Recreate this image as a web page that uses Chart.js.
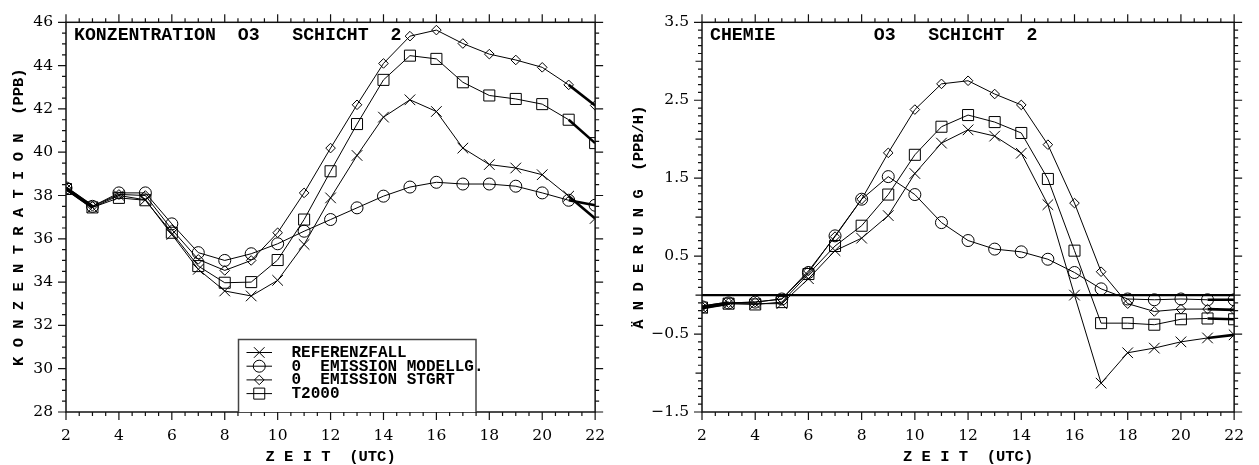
<!DOCTYPE html>
<html>
<head>
<meta charset="utf-8">
<script src="https://cdn.jsdelivr.net/npm/chart.js@4.4.1/dist/chart.umd.min.js"></script>
<style>
  html, body { margin: 0; padding: 0; background: #fff; }
  #wrap { position: relative; width: 1259px; height: 465px; overflow: hidden; }
  #c1 { position: absolute; left: 0; top: 0; }
  #c2 { position: absolute; left: 620px; top: 0; }
</style>
</head>
<body>
<div id="wrap">
  <canvas id="c1" width="620" height="465"></canvas>
  <canvas id="c2" width="639" height="465"></canvas>
</div>
<script>
// ---------- data ----------
const hours = [2, 3, 4, 5, 6, 7, 8, 9, 10, 11, 12, 13, 14, 15, 16, 17, 18, 19, 20, 21, 22];
const seriesNames = ['REFERENZFALL', '0  EMISSION MODELLG.', '0  EMISSION STGRT', 'T2000'];

// Konzentration O3 (PPB)
const concRef    = [38.30, 37.45, 38.00, 37.80, 36.20, 34.59, 33.59, 33.36, 34.08, 35.74, 37.89, 39.85, 41.62, 42.42, 41.88, 40.19, 39.43, 39.27, 38.96, 37.97, 36.94];
const concModell = [38.35, 37.50, 38.12, 38.12, 36.69, 35.36, 35.00, 35.31, 35.77, 36.35, 36.89, 37.43, 37.97, 38.39, 38.61, 38.53, 38.53, 38.43, 38.12, 37.78, 37.55];
const concStgrt  = [38.35, 37.50, 38.05, 38.00, 36.43, 35.05, 34.54, 35.00, 36.28, 38.12, 40.19, 42.19, 44.10, 45.36, 45.64, 45.02, 44.53, 44.26, 43.92, 43.11, 42.16];
const concT2000  = [38.30, 37.45, 37.89, 37.78, 36.28, 34.74, 33.97, 34.00, 35.02, 36.89, 39.12, 41.30, 43.34, 44.46, 44.31, 43.23, 42.62, 42.46, 42.22, 41.50, 40.42];

// Chemie Aenderung (PPB/H)
const chemRef    = [-0.17, -0.11, -0.11, -0.11, 0.21, 0.57, 0.73, 1.02, 1.56, 1.95, 2.12, 2.04, 1.82, 1.16, 0.00, -1.13, -0.74, -0.68, -0.60, -0.55, -0.51];
const chemModell = [-0.15, -0.10, -0.09, -0.05, 0.29, 0.76, 1.23, 1.52, 1.29, 0.93, 0.70, 0.59, 0.555, 0.46, 0.29, 0.08, -0.05, -0.06, -0.05, -0.06, -0.06];
const chemStgrt  = [-0.15, -0.10, -0.09, -0.05, 0.31, 0.75, 1.23, 1.825, 2.38, 2.71, 2.75, 2.58, 2.44, 1.93, 1.18, 0.30, -0.11, -0.21, -0.18, -0.18, -0.19];
const chemT2000  = [-0.16, -0.11, -0.12, -0.09, 0.27, 0.63, 0.89, 1.29, 1.80, 2.16, 2.31, 2.22, 2.08, 1.49, 0.57, -0.36, -0.36, -0.38, -0.31, -0.30, -0.31];
const zeroLine = [0, 0];
const zeroHours = [2, 22];

const xTicks = { min: 2, max: 22, step: 2, minor: 0.5 };
const concTicks = { min: 28, max: 46, step: 2, minor: 0.5 };
const chemTicks = { min: -1.5, max: 3.5, step: 1, minor: 0.1 };

const titleLeft  = 'KONZENTRATION  O3   SCHICHT  2';
const titleRight = 'CHEMIE         O3   SCHICHT  2';
const xTitle = 'Z E I T  (UTC)';
const yTitleLeft = 'K O N Z E N T R A T I O N  (PPB)';
const yTitleRight = 'Ä N D E R U N G  (PPB/H)';

// ---------- styles ----------
const MONO = '"Liberation Mono", "DejaVu Sans Mono", monospace';
const TICKFONT = '"DejaVu Serif", "Liberation Serif", serif';
const markerStyles = [
  { pointStyle: 'crossRot', radius: 7.5 },
  { pointStyle: 'circle', radius: 6 },
  { pointStyle: 'rectRot', radius: 4.8 },
  { pointStyle: 'rect', radius: 7.8 }
];

function pts(xs, ys) { return xs.map((h, i) => ({ x: h, y: ys[i] })); }

function seriesDataset(name, values, k) {
  const n = values.length;
  return {
    label: name,
    data: pts(hours, values),
    borderColor: '#000',
    backgroundColor: 'rgba(0,0,0,0)',
    borderWidth: 1,
    pointStyle: markerStyles[k].pointStyle,
    pointRadius: markerStyles[k].radius,
    pointBorderWidth: 1,
    pointBorderColor: '#000',
    pointBackgroundColor: 'rgba(0,0,0,0)',
    tension: 0,
    segment: {
      borderWidth: c => (c.p0DataIndex === 0 || c.p1DataIndex === n - 1) ? 2.6 : 1
    }
  };
}

function fallbackPoint(ctx, style, r, x, y) {
  ctx.beginPath();
  if (style === 'circle') { ctx.arc(x, y, r, 0, Math.PI * 2); }
  else if (style === 'rect') { const s = r * Math.SQRT1_2; ctx.rect(x - s, y - s, 2 * s, 2 * s); }
  else if (style === 'rectRot') { ctx.moveTo(x - r, y); ctx.lineTo(x, y - r); ctx.lineTo(x + r, y); ctx.lineTo(x, y + r); ctx.closePath(); }
  else { const o = r * Math.SQRT1_2; ctx.moveTo(x - o, y - o); ctx.lineTo(x + o, y + o); ctx.moveTo(x + o, y - o); ctx.lineTo(x - o, y + o); }
  ctx.stroke();
}

// ---------- frame / ticks / inner title / legend plugin ----------
const framePlugin = {
  id: 'frame',
  afterDatasetsDraw(chart, args, o) {
    const { ctx, chartArea: a, scales: { x, y } } = chart;
    ctx.save();
    // frame
    ctx.strokeStyle = '#111';
    ctx.lineWidth = 1.5;
    ctx.strokeRect(a.left, a.top, a.right - a.left, a.bottom - a.top);
    // x ticks (top and bottom, outward)
    ctx.lineWidth = 1.2;
    ctx.beginPath();
    const nx = Math.round((xTicks.max - xTicks.min) / xTicks.minor);
    const xPerMajor = Math.round(xTicks.step / xTicks.minor);
    for (let i = 0; i <= nx; i++) {
      const px = x.getPixelForValue(xTicks.min + i * xTicks.minor);
      const len = (i % xPerMajor === 0) ? 8 : 4;
      ctx.moveTo(px, a.bottom); ctx.lineTo(px, a.bottom + len);
      ctx.moveTo(px, a.top); ctx.lineTo(px, a.top - len);
    }
    // y ticks (left and right, outward)
    const t = o.yt;
    const ny = Math.round((t.max - t.min) / t.minor);
    const yPerMajor = Math.round(t.step / t.minor);
    for (let i = 0; i <= ny; i++) {
      const py = y.getPixelForValue(t.min + i * t.minor);
      let len = 4;
      if (i % yPerMajor === 0) len = 8;
      else if (o.medium && i % (yPerMajor / 2) === 0) len = 6.5;
      ctx.moveTo(a.left, py); ctx.lineTo(a.left - len, py);
      ctx.moveTo(a.right, py); ctx.lineTo(a.right + len, py);
    }
    ctx.stroke();

    // inner title
    ctx.fillStyle = '#000';
    ctx.font = 'bold 18.2px ' + MONO;
    ctx.textAlign = 'left';
    ctx.textBaseline = 'alphabetic';
    ctx.fillText(o.title, a.left + 8, a.top + 18);

    // legend
    if (o.legend) {
      const L = o.legend;
      const bottom = a.bottom;
      ctx.fillStyle = '#fff';
      ctx.fillRect(L.left, L.top, L.right - L.left, bottom - L.top);
      ctx.strokeStyle = '#444';
      ctx.lineWidth = 1.5;
      ctx.beginPath();
      ctx.moveTo(L.left, bottom); ctx.lineTo(L.left, L.top); ctx.lineTo(L.right, L.top); ctx.lineTo(L.right, bottom);
      ctx.stroke();
      ctx.font = 'bold 16px ' + MONO;
      ctx.textBaseline = 'middle';
      for (let k = 0; k < seriesNames.length; k++) {
        const yy = L.firstRow + k * L.rowGap;
        ctx.strokeStyle = '#000';
        ctx.lineWidth = 1;
        ctx.beginPath();
        ctx.moveTo(L.lineX0, yy); ctx.lineTo(L.lineX1, yy);
        ctx.stroke();
        const ms = markerStyles[k];
        const cx = (L.lineX0 + L.lineX1) / 2;
        if (Chart.helpers && Chart.helpers.drawPoint) {
          ctx.fillStyle = 'rgba(0,0,0,0)';
          ctx.strokeStyle = '#000';
          ctx.lineWidth = 1;
          Chart.helpers.drawPoint(ctx, { pointStyle: ms.pointStyle, radius: ms.radius, rotation: 0, borderWidth: 1 }, cx, yy);
        } else {
          fallbackPoint(ctx, ms.pointStyle, ms.radius, cx, yy);
        }
        ctx.fillStyle = '#000';
        ctx.fillText(seriesNames[k], L.textX, yy + 0.5);
      }
    }
    ctx.restore();
  }
};

function baseOptions(yt, yTitle, padRight, yWidth, fmt, frameOpts) {
  return {
    responsive: false,
    animation: false,
    events: [],
    layout: { padding: { top: 20, right: padRight, left: 0, bottom: 0 } },
    plugins: {
      legend: { display: false },
      tooltip: { enabled: false },
      frame: frameOpts
    },
    scales: {
      x: {
        type: 'linear',
        min: xTicks.min, max: xTicks.max,
        grid: { display: false, drawTicks: false },
        border: { display: false },
        ticks: {
          stepSize: xTicks.step, padding: 15, color: '#000',
          font: { family: TICKFONT, size: 15.5 },
          maxRotation: 0, autoSkip: false
        },
        title: {
          display: true, text: xTitle, color: '#000',
          font: { family: MONO, size: 15.5, weight: 'bold', lineHeight: 1 },
          padding: { top: 0, bottom: 0.5 }
        },
        afterFit: s => { s.height = 53; }
      },
      y: {
        type: 'linear',
        min: yt.min, max: yt.max,
        grid: { display: false, drawTicks: false },
        border: { display: false },
        ticks: {
          stepSize: yt.step, padding: 13, color: '#000',
          font: { family: TICKFONT, size: 15.5 },
          callback: fmt, autoSkip: false
        },
        title: {
          display: true, text: yTitle, color: '#000',
          font: { family: MONO, size: 15.5, weight: 'bold', lineHeight: 1 },
          padding: { top: 11.5, bottom: 0 }
        },
        afterFit: s => { s.width = yWidth; }
      }
    }
  };
}

// ---------- left chart ----------
const leftDatasets = [concRef, concModell, concStgrt, concT2000].map((v, k) => seriesDataset(seriesNames[k], v, k));
new Chart(document.getElementById('c1'), {
  type: 'line',
  data: { datasets: leftDatasets },
  options: baseOptions(concTicks, yTitleLeft, 18, 66, v => String(Math.round(v)), {
    yt: concTicks, medium: false, title: titleLeft,
    legend: { left: 238.5, top: 339.5, right: 476, firstRow: 352.5, rowGap: 13.7, lineX0: 246.5, lineX1: 272, textX: 291.5 }
  }),
  plugins: [framePlugin]
});

// ---------- right chart ----------
const rightDatasets = [chemRef, chemModell, chemStgrt, chemT2000].map((v, k) => seriesDataset(seriesNames[k], v, k));
rightDatasets.unshift({
  label: 'null',
  data: pts(zeroHours, zeroLine),
  borderColor: '#000',
  borderWidth: 2.4,
  pointRadius: 0,
  tension: 0
});
new Chart(document.getElementById('c2'), {
  type: 'line',
  data: { datasets: rightDatasets },
  options: baseOptions(chemTicks, yTitleRight, 21, 82, v => v.toFixed(1).replace('-', '\u2212'), {
    yt: chemTicks, medium: true, title: titleRight, legend: null
  }),
  plugins: [framePlugin]
});
</script>
</body>
</html>
